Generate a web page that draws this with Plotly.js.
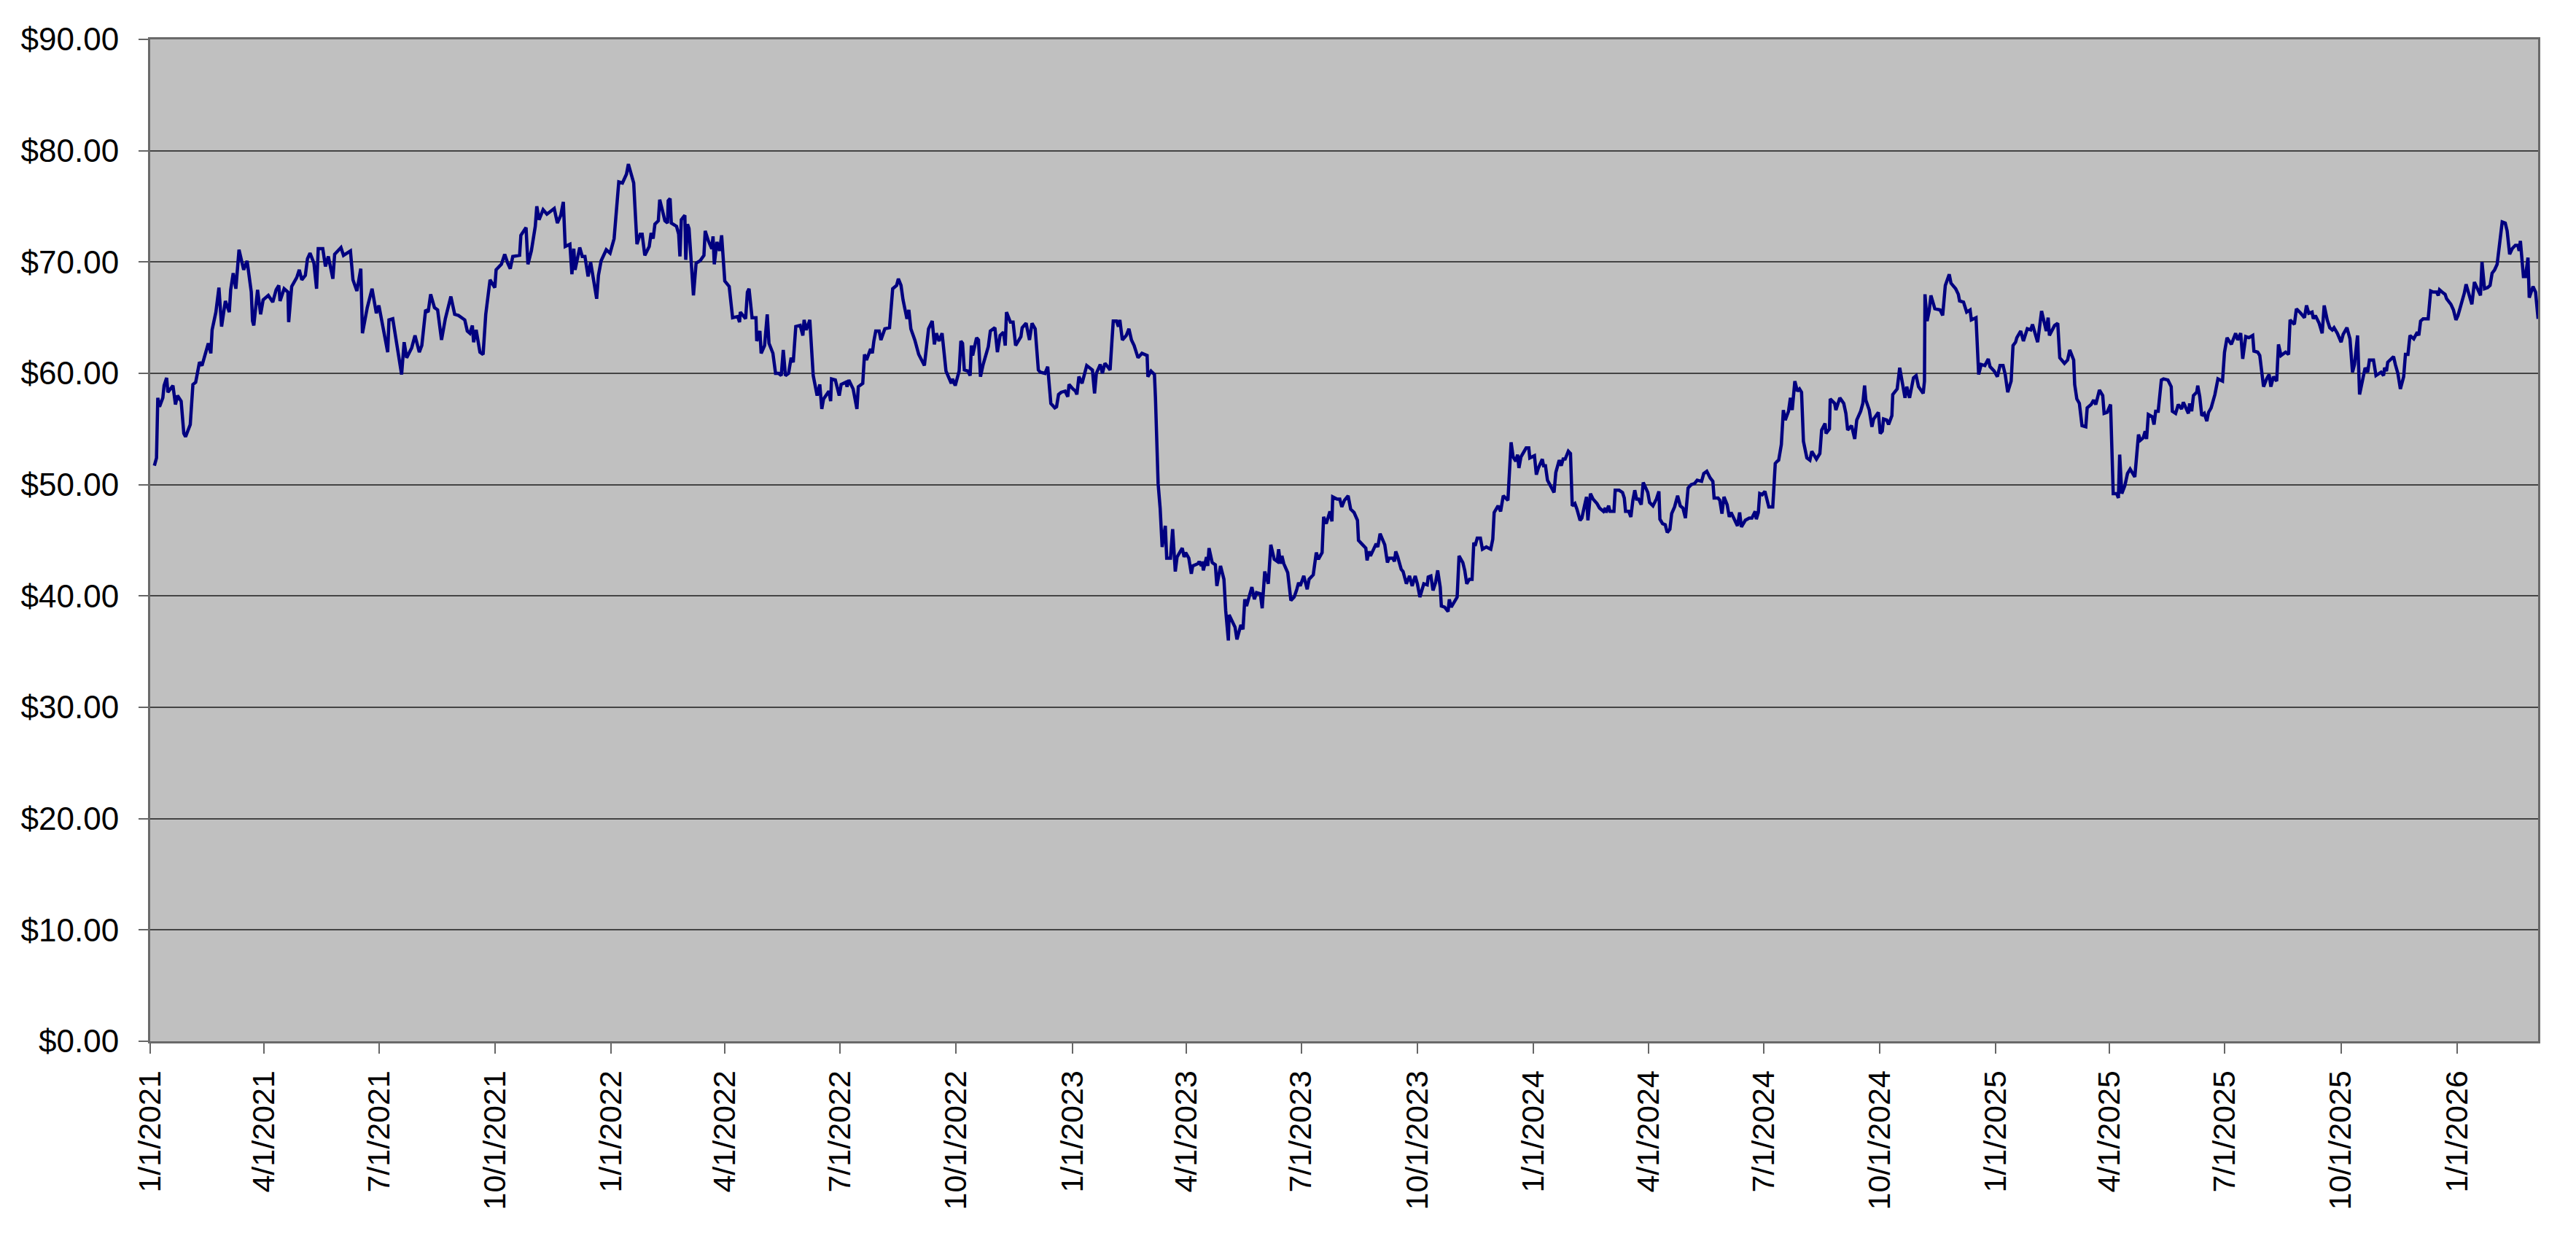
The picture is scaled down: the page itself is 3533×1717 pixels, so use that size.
<!DOCTYPE html>
<html>
<head>
<meta charset="utf-8">
<script src="https://cdn.plot.ly/plotly-3.0.1.min.js"></script>
<style>html,body{margin:0;padding:0;background:#fff;}#chart{width:3533px;height:1717px;}</style>
</head>
<body>
<div id="chart"></div>
<script>
// Days since 1/1/2021 and closing prices, in six segments
const startDate = "2021-01-01";

const daysA = [3.3,5,6,7.4,10,11,13,14,18,20,21.6,24.5,26.6,28,31.7,33.8,36,39,41,46,48,49,52,54.4,56.5,59.5,62.6,63.7,65.7,67.8,70.3,72,74,76.7,80,81,82,85,87.4,89.4,93.5,97,99.7,101.8,102.8,106,109,109.6,112,116,118,120,122.8,124.5,126.5,129.6,131.7,133,136.6,138.7,141,144.6,146,151,153,158.5,160.5,163.6,166.7,168,171.8,175.6,179,181,186,188,189,192,194.5,196.5,199,201,203,207,209.6,213,215,218,220,222,225,227.5,230.6,233.6,235.7,238,241,244,249,251,253,255,256,258,261,263.5,265.6,269,272.8,273.8,278,280.6,283,285,287,292.4,293.4,297.5,299,301.7,304.8,306,307.8,311,314];
const pricesA = [51.7,52.4,57.8,57.0,57.8,58.9,59.6,58.3,58.9,57.2,58.0,57.5,54.6,54.3,55.4,59.0,59.2,61.0,60.7,62.7,61.8,63.9,65.5,67.7,64.2,66.5,65.5,67.5,69.0,67.6,71.1,70.3,69.3,70.1,67.3,64.7,64.3,67.5,65.3,66.6,67.0,66.4,67.5,67.9,66.5,67.6,67.3,64.6,67.8,68.6,69.3,68.4,68.8,70.3,70.8,69.9,67.6,71.2,71.2,69.6,70.5,68.5,70.7,71.3,70.6,71.0,68.4,67.4,69.4,63.6,65.9,67.6,65.4,66.1,63.1,61.9,64.8,64.9,63.1,61.5,59.9,62.8,61.4,62.3,63.4,61.9,62.5,65.7,65.5,67.1,65.9,65.7,63.0,64.9,66.0,66.9,65.3,65.2,64.8,63.8,63.6,64.3,62.8,63.9,61.9,61.7,65.3,68.4,67.7,69.3,69.8,70.7,69.9,69.4,70.5,70.6,72.4,73.1,69.8,71.0,73.2,75.0,73.8,74.7,74.3];

const daysB = [319.8,322.3,325,327,328.5,332.2,333.8,335.3,336.3,340,342,344.1,346.6,348.6,350.7,353.4,354.8,356.9,361,364,367.2,368.6,370.9,373.8,377,378.5,382.7,385.3,387.8,389.4,391.5,395,396.5,398.1,399.5,402.2,403.3,405.3,407.4,409.5,410,411.5,412.5,416.6,418.3,419.3,420.4,423.2,423.9,425.3,426.5,430,432.1,435.2,438.3,439.3,441.8,444.5,445.5,446.5,448.6,450.7,452.3,454.8,458.3,461,465,466.5,467.1,471.3,472.7,474,476.4,479.5,480.1,482.6,483.6,486.3,488.4,489.8,492.9,495,497.4,499.5,501.1,502.8,505.3,507.3,509,511,514.5,516.6,517.6,519.3,522.1,524.8,527.9,530,531.6,533,537.2,538.6,539.3,542.3,545.4,546.9,550.6,551.6,553,556.4,559.4,560.5,564,565.4,567,570.2,571.6,572.8,574.3,577,578.4,581.5,585.2,587.7,590.8,592.2,594.3,595.9,599,600.5,602.1,605.2,608.3,612.8,616.1,619,620.7,622.3,624.4,626.8,629.9,634.1,635.1,637.2,640.3,641.7,643];
const pricesB = [74.8,73.5,74.2,75.4,71.4,71.6,68.9,71.2,69.3,71.3,70.5,70.5,68.7,70.0,68.4,66.7,68.8,70.1,71.1,70.8,72.1,74.2,77.2,77.1,77.9,78.8,77.1,71.6,72.5,72.5,70.6,71.4,72.6,72.1,73.4,73.7,75.6,74.7,73.7,73.5,75.5,75.7,73.5,73.2,72.5,70.5,73.8,74.2,70.2,73.4,73.0,67.0,69.9,70.1,70.6,72.8,71.9,71.2,72.3,69.8,71.8,71.0,72.4,68.3,67.8,65.0,65.1,64.6,65.5,64.9,67.3,67.6,65.0,65.0,62.9,63.8,61.8,62.5,65.3,62.7,61.8,60.0,60.0,59.8,62.1,59.8,60.0,61.4,61.0,64.2,64.3,63.4,64.8,63.9,64.8,59.8,58.0,59.0,56.8,57.7,58.4,57.5,59.5,59.4,58.0,59.0,59.2,58.8,59.4,58.6,56.8,58.8,59.1,61.7,61.2,62.2,61.8,62.9,63.8,63.8,63.0,64.0,64.1,67.6,67.9,68.5,67.9,66.6,64.9,65.7,64.0,63.0,61.7,60.7,64.0,64.7,62.6,63.6,62.9,63.6,60.2,59.1,59.5,58.9,60.2,62.9,62.7];

const daysC = [644.4,647.3,649,650,651,654.1,655.6,657.2,659.3,661.8,663.4,665,668.6,670.6,672.7,675.4,676.8,677.8,680.9,683,685,689.2,690.2,693.3,696,698,700.5,703,704.6,708.3,710.4,712.9,716,717.4,719,721.1,724.2,726.3,727.3,730.4,732.4,733.5,735.1,737.6,741.3,745.8,747.5,748.9,752,753.7,755.7,757.2,759.8,761.3,762.3,764.8,766.4,767.5,769.5,772.6,774.7,776.7,778.8,781.9,785,789.1,789.7,792.2,794.9,795.7,796.9,797.8,799.4,801,802.5,803.5,804.6,807.6,809.3,811.4,812.8,816.9,818.4,819.6,822.1,824.1,825.2,829.3,830.3,832,832.8,833.6,836.1,837.1,838.1,840.6,843.1,844.3,847.2,849.9,851.3,853.4,854,856.7,858.7,860.2,863.3,865,866.4,867.8,869.9,872,874,875.7,878.7,880.2,882.2,885,887,889.7,892.1,893.2,894.6,895.8,897.3,900.4,902.9,905.5,907.6,909,910.3,913.1,915.8,917.3,920.6,923,924.7,927.6,928.8,930.9,933.8,935.4,936,939.5,941.6,943.2,945.3,948.2,950.2,952.9,955.6,956.4,959.7,962.2,963.2,964.7];
const pricesC = [60.3,60.2,59.8,62.5,61.6,63.2,63.0,59.7,60.8,61.7,62.4,63.8,64.1,61.9,63.4,63.7,62.5,65.5,64.6,64.6,62.5,63.3,64.1,64.5,63.0,64.5,64.0,60.3,60.1,60.0,60.6,57.3,56.9,57.0,58.1,58.3,58.4,57.9,59.0,58.6,58.4,58.1,59.7,59.1,60.7,60.3,58.2,60.0,60.8,60.0,60.9,60.7,60.3,63.0,64.7,64.7,64.2,64.8,63.0,63.4,64.0,63.0,62.5,61.4,61.8,61.6,59.7,60.2,59.9,57.8,54.2,50.1,47.9,44.4,45.5,46.3,43.4,43.4,46.0,42.2,43.5,44.3,43.5,43.9,43.4,42.0,42.7,42.9,43.1,42.7,43.1,42.3,43.5,42.7,44.3,43.0,42.8,40.9,42.7,41.5,38.7,36.0,38.3,37.6,37.2,36.1,37.4,37.0,39.7,39.1,40.0,40.8,39.7,40.3,40.2,38.9,42.2,41.1,44.6,43.3,43.1,44.2,42.9,43.6,42.9,42.1,39.6,39.9,40.6,41.2,40.9,41.8,40.6,41.5,41.9,43.9,43.3,43.9,47.1,46.5,47.6,46.7,48.9,48.7,48.7,48.0,48.6,49.0,47.8,47.5,46.8,45.0,44.6,44.3,43.2,44.0];

const daysD = [965.9,969,970.4,971.7,973.5,977.2,979.3,980.7,983.4,984.9,985.9,987.5,990.2,991.7,994.3,996.8,998.9,1001.3,1003,1005,1008.1,1010.8,1011.6,1013.7,1015.4,1017.4,1019.1,1021.1,1022,1024.6,1027.3,1028.3,1029.8,1034.5,1036,1039,1040.5,1042.1,1044.2,1046.3,1047.7,1048.7,1050.4,1052.9,1054.5,1057.6,1061.1,1062.7,1063.8,1066.9,1068.9,1071,1074.7,1075.5,1077.2,1078.8,1080.9,1082.3,1083.4,1085,1089.1,1091.2,1092,1095.7,1097.2,1098.8,1101.9,1102.9,1104.4,1106,1109.1,1111.2,1112.6,1115.3,1116.9,1118.4,1120,1122.5,1124.2,1125.6,1127.7,1129.3,1131.8,1133.2,1135.3,1136.9,1138,1140,1142.1,1145.2,1147.2,1150.3,1151.8,1152.4,1154.4,1155.5,1158.6,1159.6,1162.7,1165.4,1166.8,1167.8,1170.3,1172,1173.6,1175.1,1176.5,1178.1,1180.2,1181.8,1185.4,1186.8,1189.5,1192.2,1194.2,1195,1197.1,1199.2,1200.8,1202.9,1204.3,1206.6,1209,1211.1,1213.2,1215.2,1217.3,1219.7,1222.4,1224.5,1228,1229.7,1232.1,1234.8,1236.9,1237.9,1241,1242.4,1244.1,1245.7,1248.2,1249.9,1251.3,1254,1256.4,1258.1,1259.5,1262.6,1265.7,1267.8,1270.4,1271.3,1272.9,1274,1276,1278.1,1281.2,1284.3,1286.3,1287.8];
const pricesD = [43.6,44.3,44.7,44.4,45.6,44.6,43.0,43.4,43.4,43.1,44.0,43.5,42.4,42.2,41.1,41.8,40.9,41.8,41.1,39.9,41.1,41.0,41.7,41.8,40.5,41.2,42.3,40.8,39.1,39.0,38.6,39.7,39.0,39.9,43.6,43.0,42.3,41.1,41.5,41.5,44.8,44.5,45.2,45.2,44.2,44.4,44.2,45.1,47.5,48.1,47.6,49.0,48.6,50.3,53.8,52.5,52.1,52.7,51.5,52.5,53.3,53.3,52.4,52.6,50.9,51.5,52.3,51.7,51.7,50.4,49.8,49.3,51.1,52.2,51.7,52.3,52.3,53.0,52.8,48.1,48.3,47.8,46.8,47.0,48.1,48.9,46.8,49.2,48.7,48.3,47.9,47.6,47.9,47.5,48.1,47.6,47.6,49.5,49.5,49.3,48.8,47.6,47.6,47.1,48.6,49.5,48.7,48.7,48.2,50.2,49.3,48.4,48.1,48.7,49.4,46.9,46.5,46.4,45.7,46.0,47.4,48.0,49.0,48.1,47.9,47.0,49.7,50.0,50.1,50.4,50.3,51.0,51.2,50.6,50.3,48.8,48.8,48.6,47.4,48.9,48.2,47.1,47.5,46.8,46.3,47.5,46.2,46.8,47.0,47.0,47.6,46.9,47.5,49.2,49.1,49.4,48.0,48.0,51.9,52.1];

const daysE = [1289,1291.1,1292.7,1294.2,1296.8,1298.3,1299.7,1301.8,1303.8,1305.5,1307.1,1308.6,1311.3,1313.7,1315.2,1318.9,1321.6,1323,1325.7,1326.5,1329.2,1329.8,1333.3,1334.3,1337.4,1340.5,1342.2,1343.6,1346.7,1349.2,1350.8,1353.9,1355.6,1357,1358,1360.7,1362.8,1364.2,1367.9,1369.4,1371,1372,1374.5,1376,1378.6,1379.3,1382.8,1384.8,1386.9,1389,1390.4,1392.6,1395.7,1397.8,1399.7,1403.4,1404.4,1404.8,1406.5,1408.1,1409.5,1412.6,1416.8,1418.8,1420.9,1424,1425.4,1429.1,1431.2,1432.2,1435.3,1437.8,1440.5,1441.5,1445.2,1447.3,1449.3,1452.2,1454.9,1456.3,1459.6,1462.1,1464.2,1466.6,1468.3,1470.3,1473,1474.5,1476.5,1477.5,1480.6,1482.7,1485.8,1488.5,1489.9,1492,1494,1497.1,1499.2,1500.8,1502.3,1503.3,1507.4,1509.9,1511.5,1515.2,1517.7,1519.4,1522.5,1523.3,1525,1527,1529.1,1532.1,1533.2,1536.3,1538.3,1540,1542.9,1545.5,1546.6,1549,1551.7,1553.8,1556.5,1557.9,1558.9,1560.6,1563,1565.1,1567.2,1570.9,1573.8,1575.4,1577.5,1579.1,1580.2,1581.6,1584.7,1586.1,1587.4,1589.4,1591.9,1593.6,1597.1,1599.7,1600.6,1603.2,1605.3];
const pricesE = [52.2,53.6,56.7,55.8,56.6,57.8,56.7,59.3,58.4,58.6,58.3,53.9,52.4,52.2,53.0,52.3,52.8,54.9,55.5,54.6,55.0,57.7,57.3,56.7,57.8,57.3,56.4,54.9,55.3,54.1,55.8,56.6,57.3,58.9,57.6,56.7,55.2,55.9,56.5,54.6,54.8,55.9,55.8,55.4,56.2,58.1,58.6,60.5,59.0,57.8,58.8,57.8,59.6,59.8,58.8,58.2,59.3,67.1,64.7,65.6,67.0,65.8,65.7,65.2,67.9,68.9,68.1,67.6,67.1,66.5,66.4,65.5,65.7,64.8,65.0,59.9,60.8,60.7,61.3,60.6,60.2,59.7,60.7,60.7,59.9,58.3,59.3,62.5,62.8,63.2,63.8,62.9,64.0,63.9,64.4,63.6,62.8,65.6,64.5,63.8,65.0,63.4,64.3,64.5,61.4,60.9,61.2,62.1,61.2,59.0,57.7,57.3,55.3,55.2,56.9,57.2,57.6,57.2,58.5,58.0,56.4,56.5,57.2,49.2,49.2,48.8,52.7,49.2,49.9,51.0,51.4,50.7,54.5,54.0,54.2,54.8,54.1,56.3,56.1,55.4,56.6,56.6,59.4,59.5,59.4,58.8,56.6,56.4,57.2];

const daysF = [1607.9,1609.3,1613.3,1614.3,1615.9,1617.3,1619.9,1620.7,1622.3,1623.9,1625.9,1627.9,1629.3,1631.3,1634.3,1636.7,1640.3,1641.9,1643.9,1647.3,1649.3,1650.7,1652.3,1654.7,1656.3,1658.7,1661.2,1664.2,1665.2,1668.2,1669.8,1672.8,1675.2,1677.2,1678.6,1680.6,1683.2,1684.6,1686.6,1690.2,1692.6,1693.8,1697.2,1698.8,1702.2,1705.2,1706.8,1708.6,1711.2,1712.2,1713.8,1716.8,1719.2,1720.8,1723.2,1725.2,1727.2,1728.6,1731.2,1734.2,1735.8,1738.8,1741.2,1743.2,1744.8,1747.2,1748.8,1751.2,1753.2,1755.2,1756.6,1759.8,1761.8,1765.8,1767.8,1768.6,1770.1,1771.1,1775.7,1777.1,1779.1,1781.1,1783.7,1785.1,1787.1,1788.7,1791.7,1794.5,1795.7,1797.1,1799.1,1803.1,1805.1,1807.1,1809.7,1811.1,1812.1,1814.1,1816.5,1817.7,1821.1,1823.1,1825.1,1826.7,1830.5,1831.7,1833.1,1835.1,1837.7,1839.7,1842.1,1844.5,1845.7,1847.7,1850.1,1852.1,1853.7,1855.7,1857.7,1859.1,1860.1,1861.7,1864.1,1865.6,1867.6,1869.6,1872.1,1874.1,1875.1,1876.1,1878.5,1880.1,1882.1,1883.1,1886.1,1888.1,1890.1];
const pricesF = [56.8,57.4,56.4,57.3,56.6,58.0,58.3,58.9,57.9,56.2,56.4,55.7,56.5,56.9,58.1,59.5,59.3,61.9,63.2,62.6,63.3,63.6,63.0,63.6,61.3,63.3,63.2,63.4,62.0,61.9,61.6,58.8,59.5,59.9,58.8,59.7,59.3,62.6,61.6,61.9,61.7,64.8,64.4,65.8,65.4,65.0,66.1,65.4,65.5,64.9,65.2,64.5,63.6,66.1,64.8,64.1,63.9,64.1,63.6,62.8,63.5,64.1,63.1,60.1,60.8,63.4,58.1,59.5,60.5,60.1,61.2,61.2,59.8,60.1,59.8,60.5,60.2,61.0,61.5,60.8,60.0,58.6,59.7,61.7,61.7,63.4,63.1,63.7,63.4,64.7,64.9,64.9,67.4,67.3,67.3,67.0,67.5,67.3,67.1,66.7,66.2,65.7,64.8,65.2,66.7,67.2,68.0,67.1,66.2,68.2,67.5,67.0,70.0,67.6,67.7,67.9,69.0,69.3,69.8,71.2,72.4,73.6,73.5,72.8,70.7,71.2,71.5,71.5,71.0,71.9,68.7,68.7,70.4,66.8,67.8,67.3,64.9];

const yTickValues = [0,10,20,30,40,50,60,70,80,90];

// Assemble the series
const allDays = [].concat(daysA, daysB, daysC, daysD, daysE, daysF);
const allPrices = [].concat(pricesA, pricesB, pricesC, pricesD, pricesE, pricesF);
const base = Date.UTC(2021, 0, 1);
function toDate(d) { return new Date(base + d * 86400000).toISOString().replace('Z', ''); }
const xDates = allDays.map(toDate);

const font = 'Liberation Sans, Arial, sans-serif';

const trace = {
  type: 'scatter',
  mode: 'lines',
  x: xDates,
  y: allPrices,
  line: {color: '#000080', width: 4.5},
  hoverinfo: 'skip'
};

const layout = {
  width: 3533,
  height: 1717,
  margin: {l: 206, r: 52, t: 54, b: 289, autoexpand: false},
  paper_bgcolor: '#ffffff',
  plot_bgcolor: '#C0C0C0',
  showlegend: false,
  xaxis: {
    type: 'date',
    range: [startDate, xDates[xDates.length - 1]],
    tick0: startDate,
    dtick: 'M3',
    tickformat: '%-m/%-d/%Y',
    tickangle: -90,
    ticks: 'outside',
    ticklen: 14,
    tickwidth: 2,
    tickcolor: '#666666',
    ticklabelstandoff: 6,
    showgrid: false,
    zeroline: false,
    showline: true,
    linecolor: '#6a6a6a',
    linewidth: 3,
    mirror: true,
    tickfont: {family: font, size: 43, color: '#000000'}
  },
  yaxis: {
    range: [0, 90],
    tickvals: yTickValues,
    tickformat: '$.2f',
    ticks: 'outside',
    ticklen: 13,
    tickwidth: 2,
    tickcolor: '#666666',
    ticklabelstandoff: 18,
    showgrid: true,
    gridcolor: '#444444',
    gridwidth: 2,
    zeroline: false,
    showline: true,
    linecolor: '#6a6a6a',
    linewidth: 3,
    mirror: true,
    tickfont: {family: font, size: 44, color: '#000000'}
  }
};

Plotly.newPlot('chart', [trace], layout, {staticPlot: true, displayModeBar: false});
</script>
</body>
</html>
